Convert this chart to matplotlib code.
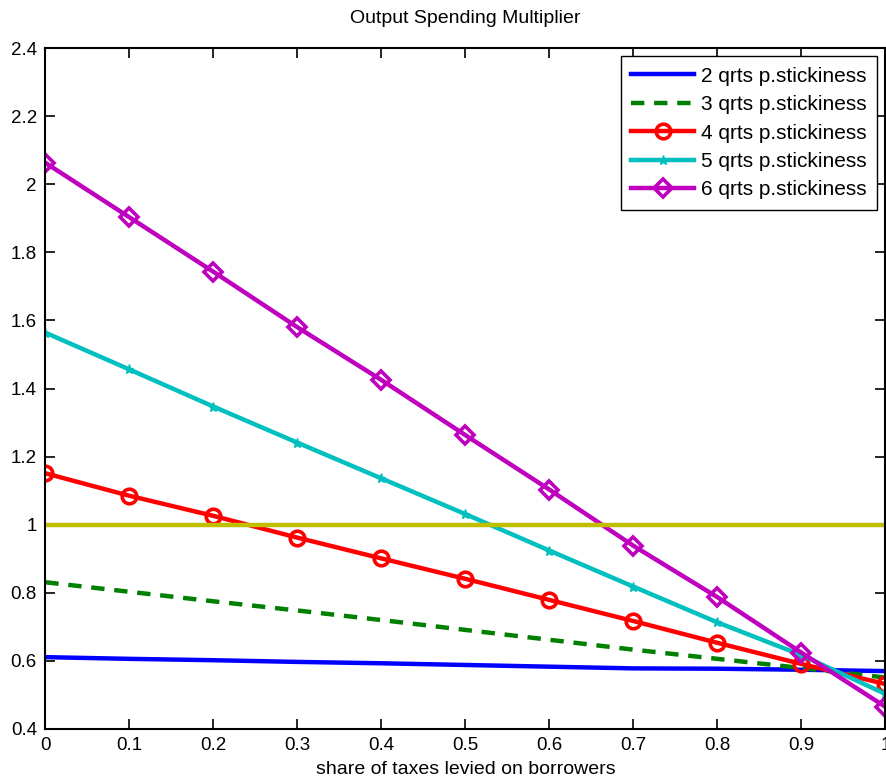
import matplotlib
matplotlib.use("Agg")
import matplotlib.pyplot as plt

plt.rcParams['font.family'] = ['Liberation Sans', 'DejaVu Sans']

x = [0, 0.1, 0.2, 0.3, 0.4, 0.5, 0.6, 0.7, 0.8, 0.9, 1.0]
q2 = [0.611, 0.606, 0.602, 0.597, 0.593, 0.588, 0.583, 0.578, 0.577, 0.574, 0.570]
q3 = [0.831, 0.803, 0.775, 0.748, 0.720, 0.691, 0.662, 0.633, 0.606, 0.579, 0.551]
q4 = [1.151, 1.085, 1.026, 0.962, 0.901, 0.841, 0.779, 0.717, 0.653, 0.591, 0.532]
q5 = [1.564, 1.456, 1.347, 1.241, 1.136, 1.031, 0.924, 0.818, 0.713, 0.617, 0.503]
q6 = [2.063, 1.903, 1.743, 1.580, 1.425, 1.263, 1.103, 0.938, 0.787, 0.624, 0.465]
ref = [1.0, 1.0]
ref_x = [0, 1]

labels = ['2 qrts p.stickiness', '3 qrts p.stickiness', '4 qrts p.stickiness',
          '5 qrts p.stickiness', '6 qrts p.stickiness']
xticks = [0, 0.1, 0.2, 0.3, 0.4, 0.5, 0.6, 0.7, 0.8, 0.9, 1]
xticklabels = ['0', '0.1', '0.2', '0.3', '0.4', '0.5', '0.6', '0.7', '0.8', '0.9', '1']
yticks = [0.4, 0.6, 0.8, 1.0, 1.2, 1.4, 1.6, 1.8, 2.0, 2.2, 2.4]
yticklabels = ['0.4', '0.6', '0.8', '1', '1.2', '1.4', '1.6', '1.8', '2', '2.2', '2.4']

fig = plt.figure(figsize=(8.87, 7.81), dpi=100)
ax = fig.add_axes([0.0511, 0.0666, 0.9472, 0.8719])

lw = 3.2
ax.plot(x, q2, color='#0000ff', lw=lw, label=labels[0])
ax.plot(x, q3, color='#008000', lw=lw, ls=(0, (3, 2.2)), label=labels[1])
ax.plot(x, q4, color='#ff0000', lw=lw, marker='o', ms=10.5, mfc='none', mew=2.6, label=labels[2])
ax.plot(x, q5, color='#00bfbf', lw=lw, marker='*', ms=6.5, label=labels[3])
ax.plot(x, q6, color='#bf00bf', lw=lw, marker='D', ms=9.5, mfc='none', mew=2.6, label=labels[4])
ax.plot(ref_x, ref, color='#bfbf00', lw=lw)

ax.set_xlim(0, 1)
ax.set_ylim(0.4, 2.4)
ax.set_xticks(xticks)
ax.set_xticklabels(xticklabels)
ax.set_yticks(yticks)
ax.set_yticklabels(yticklabels)
ax.tick_params(direction='in', top=True, right=True, labelsize=13.5, length=7, width=1.2, pad=6)
for s in ax.spines.values():
    s.set_linewidth(1.5)

ax.set_title('Output Spending Multiplier', fontsize=14, pad=18)
ax.set_xlabel('share of taxes levied on borrowers', fontsize=14, labelpad=5)

leg = ax.legend(loc='upper right', fontsize=15, handlelength=3.0, frameon=True,
                fancybox=False, edgecolor='black', framealpha=1,
                borderaxespad=0.4, labelspacing=0.45, handletextpad=0.35,
                borderpad=0.5)
leg.get_frame().set_linewidth(1.0)

fig.savefig('out.png', dpi=100)
